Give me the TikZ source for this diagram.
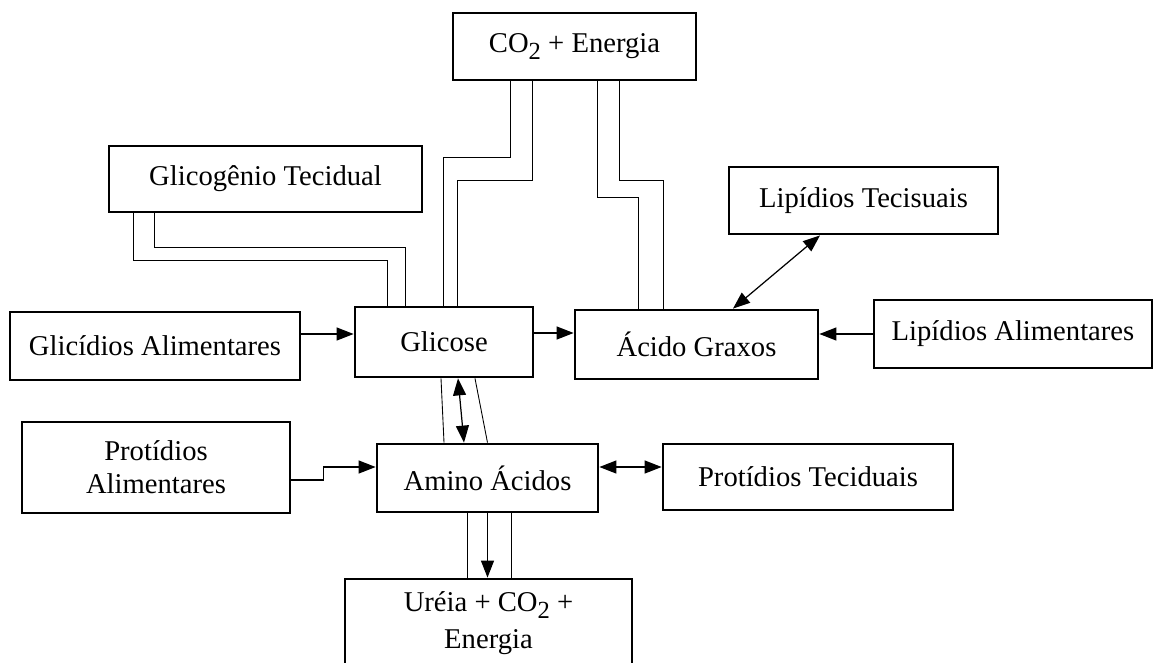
\documentclass[tikz,border=0pt]{standalone}
\usepackage{fontspec}
\setmainfont{Liberation Serif}
\usetikzlibrary{arrows.meta}

\begin{document}
\begin{tikzpicture}[x=0.02cm,y=-0.02cm,
  every node/.style={draw,line width=1.6pt,inner sep=0pt,align=center,font=\fontsize{16.3}{18.7}\selectfont},
  arr/.style={-{Triangle[length=3.4mm,width=2.6mm]},line width=0.7pt},
  dbl/.style={{Triangle[length=3.4mm,width=2.6mm]}-{Triangle[length=3.4mm,width=2.6mm]},line width=0.7pt},
  pipe/.style={line width=0.5pt}]
\useasboundingbox (0,0) rectangle (1154,663);

\node[minimum width=4.86cm,minimum height=1.34cm] (co2) at (574.5,46.5) {CO\raisebox{-.5ex}{\fontsize{14}{14}\selectfont 2} + Energia};
\node[minimum width=6.26cm,minimum height=1.32cm] (glicogenio) at (265.5,179) {Glicogênio Tecidual};
\node[minimum width=5.38cm,minimum height=1.34cm] (liptec) at (863.5,200.5) {Lipídios Tecisuais};
\node[minimum width=5.80cm,minimum height=1.36cm] (glicidios) at (155,346) {Glicídios Alimentares};
\node[minimum width=3.56cm,minimum height=1.40cm] (glicose) at (444,342) {Glicose};
\node[minimum width=4.86cm,minimum height=1.38cm] (acido) at (696.5,344.5) {Ácido Graxos};
\node[minimum width=5.56cm,minimum height=1.36cm] (lipalim) at (1013,334) {Lipídios Alimentares};
\node[minimum width=5.36cm,minimum height=1.82cm] (protalim) at (156,467.5) {Protídios\\Alimentares};
\node[minimum width=4.42cm,minimum height=1.36cm] (amino) at (487.5,478) {Amino Ácidos};
\node[minimum width=5.80cm,minimum height=1.32cm] (prottec) at (808,477) {Protídios Teciduais};
\node[minimum width=5.74cm,minimum height=1.78cm] (ureia) at (488.5,623.5) {Uréia + CO\raisebox{-.5ex}{\fontsize{14}{14}\selectfont 2} +\\[2.3pt]Energia};

% setas
\draw[arr] ([yshift=2.4mm]glicidios.east) -- ([yshift=2.4mm]glicidios.east -| glicose.west);
\draw[arr] ([yshift=1.8mm]glicose.east) -- ([yshift=1.8mm]glicose.east -| acido.west);
\draw[arr] (lipalim.west) -- (lipalim.west -| acido.east);
\draw[dbl] ([xshift=-8.7mm]liptec.south) -- ([xshift=7.3mm]acido.north);
\draw[dbl] ([xshift=2.8mm]glicose.south) -- ([xshift=-4.7mm]amino.north);
\draw[arr] (amino.south) -- (amino.south |- ureia.north);
\draw[arr] ([yshift=-2.5mm]protalim.east) -- ++(32,0) |- ([yshift=2.2mm]amino.west);
\draw[dbl] ([yshift=2.2mm]amino.east) -- ([yshift=2.2mm]amino.east -| prottec.west);

% canais duplos
\draw[pipe] ([xshift=-22.3mm]glicogenio.south) -- ++(0,34) -| ([xshift=-7.8mm]glicose.north);
\draw[pipe] ([xshift=-26.5mm]glicogenio.south) -- ++(0,47) -| ([xshift=-11.4mm]glicose.north);
\draw[pipe] ([xshift=-12.9mm]co2.south) -- ++(0,76) -| ([xshift=-0.2mm]glicose.north);
\draw[pipe] ([xshift=-8.5mm]co2.south) -- ++(0,99) -| ([xshift=2.6mm]glicose.north);
\draw[pipe] ([xshift=4.5mm]co2.south) -- ++(0,116) -| ([xshift=-11.7mm]acido.north);
\draw[pipe] ([xshift=8.9mm]co2.south) -- ++(0,99) -| ([xshift=-6.7mm]acido.north);
\draw[pipe] ([xshift=-0.6mm]glicose.south) -- ([xshift=-8.7mm]amino.north);
\draw[pipe] ([xshift=6.2mm]glicose.south) -- (amino.north);
\draw[pipe] ([xshift=-4.1mm]amino.south) -- ([xshift=-4.1mm]amino.south |- ureia.north);
\draw[pipe] ([xshift=4.7mm]amino.south) -- ([xshift=4.7mm]amino.south |- ureia.north);
\end{tikzpicture}
\end{document}
